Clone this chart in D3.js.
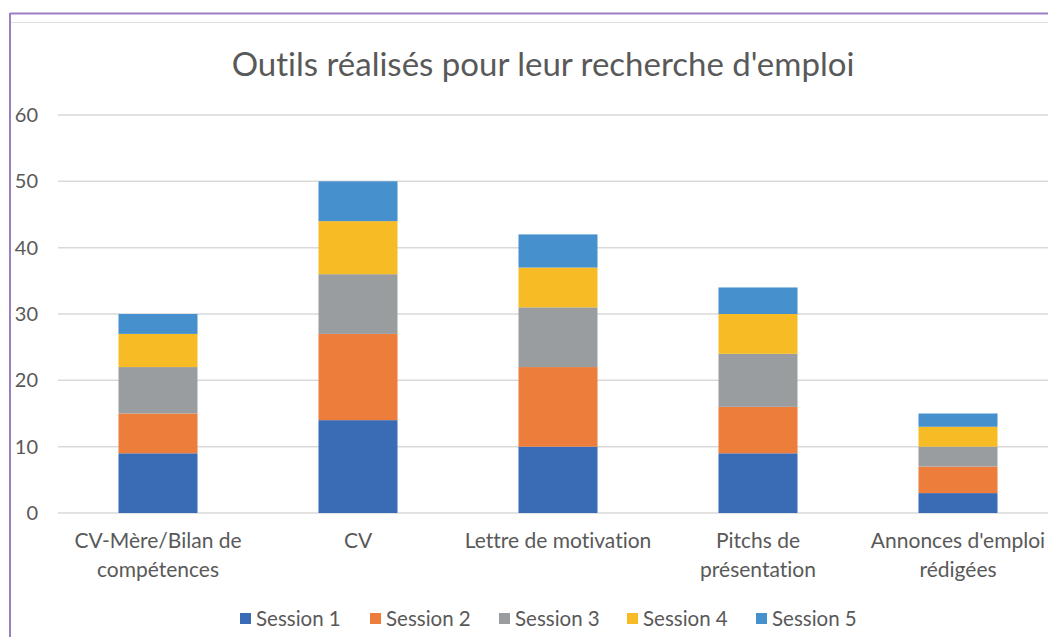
<!DOCTYPE html>
<html>
<head>
<meta charset="utf-8">
<script src="https://cdn.jsdelivr.net/npm/d3@7"></script>
<style>
  body { margin: 0; background: #fff; }
  svg { display: block; font-family: Lato, "Open Sans", sans-serif; font-variant-ligatures: none; }
</style>
</head>
<body>
<div id="vis"></div>
<script>
const categories = [
  ["CV-Mère/Bilan de", "compétences"],
  ["CV"],
  ["Lettre de motivation"],
  ["Pitchs de", "présentation"],
  ["Annonces d'emploi", "rédigées"]
];
const seriesNames = ["Session 1", "Session 2", "Session 3", "Session 4", "Session 5"];
const session1 = [9, 14, 10, 9, 3];
const session2 = [6, 13, 12, 7, 4];
const session3 = [7, 9, 9, 8, 3];
const session4 = [5, 8, 6, 6, 3];
const session5 = [3, 6, 5, 4, 2];
const colors = ["#3a6cb5", "#ed7d3a", "#9a9da0", "#f7bb26", "#4690cd"];
const yTicks = [0, 10, 20, 30, 40, 50, 60];

const W = 1048, H = 637;
const margin = { left: 58, right: -10, top: 115, bottom: 124 };

const svg = d3.select("#vis").append("svg").attr("width", W).attr("height", H);

// frame of the chart object
svg.append("line").attr("x1", 10).attr("x2", W).attr("y1", 22.5).attr("y2", 22.5)
  .attr("stroke", "#e0e0e0").attr("stroke-width", 1);
svg.append("line").attr("x1", 10).attr("x2", W).attr("y1", 13.5).attr("y2", 13.5)
  .attr("stroke", "#9b7fc6").attr("stroke-width", 2);
svg.append("line").attr("x1", 10).attr("x2", 10).attr("y1", 13).attr("y2", H)
  .attr("stroke", "#9b7fc6").attr("stroke-width", 2);

const keys = categories.map(c => c.join(" "));
const rows = keys.map((k, i) => ({
  key: k,
  s0: session1[i], s1: session2[i], s2: session3[i], s3: session4[i], s4: session5[i]
}));
const stack = d3.stack().keys(["s0", "s1", "s2", "s3", "s4"])(rows);

const x = d3.scaleBand().domain(keys).range([margin.left, W - margin.right]).paddingInner(0.605).paddingOuter(0.3025);
const y = d3.scaleLinear().domain([0, 60]).range([H - margin.bottom, margin.top]);

// title
svg.append("text").attr("x", 543).attr("y", 76).attr("text-anchor", "middle")
  .attr("font-size", 33).attr("fill", "#595959").text("Outils réalisés pour leur recherche d'emploi");

// gridlines
const g = svg.append("g");
g.selectAll("line.grid").data(yTicks).join("line").attr("class", "grid")
  .attr("x1", margin.left).attr("x2", W)
  .attr("y1", d => y(d)).attr("y2", d => y(d))
  .attr("stroke", "#d9d9d9").attr("stroke-width", 1.5);

// y axis labels
const yAxis = d3.axisLeft(y).tickValues(yTicks).tickSize(0).tickPadding(0);
svg.append("g").attr("transform", "translate(38,0)").call(yAxis)
  .call(s => s.select(".domain").remove())
  .selectAll("text").attr("font-size", 20).attr("fill", "#595959")
  .attr("font-family", "Lato, sans-serif");

// bars
g.selectAll("g.layer").data(stack).join("g").attr("class", "layer")
  .attr("fill", (d, i) => colors[i])
  .selectAll("rect").data(d => d).join("rect")
  .attr("x", d => x(d.data.key))
  .attr("width", x.bandwidth())
  .attr("y", d => y(d[1]))
  .attr("height", d => y(d[0]) - y(d[1]));

// x axis labels
const xl = svg.append("g");
categories.forEach((lines, i) => {
  const cx = x(keys[i]) + x.bandwidth() / 2;
  const t = xl.append("text").attr("x", cx).attr("y", 548).attr("text-anchor", "middle")
    .attr("font-size", 21).attr("fill", "#595959");
  lines.forEach((ln, j) => t.append("tspan").attr("x", cx).attr("dy", j === 0 ? 0 : 29).text(ln));
});

// legend
const legendX = [240, 370, 499, 627, 756];
const lg = svg.append("g").selectAll("g").data(seriesNames).join("g")
  .attr("transform", (d, i) => `translate(${legendX[i]},619)`);
lg.append("rect").attr("x", 0).attr("y", -6).attr("width", 11).attr("height", 11)
  .attr("fill", (d, i) => colors[i]);
lg.append("text").attr("x", 16).attr("y", 7).attr("font-size", 20.5).attr("fill", "#595959").text(d => d);
</script>
</body>
</html>
